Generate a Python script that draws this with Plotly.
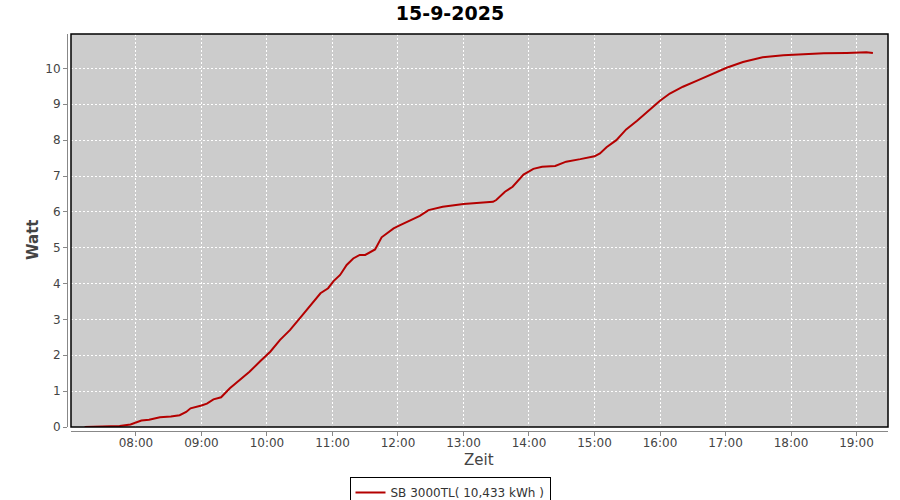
import plotly.graph_objects as go

title_text = "15-9-2025"
series_name = "SB 3000TL( 10,433 kWh )"
x_title = "Zeit"
y_title = "Watt"

times = ["07:13", "07:30", "07:45", "07:55", "08:00", "08:05", "08:12", "08:22", "08:32", "08:40",
         "08:46", "08:50", "09:00", "09:05", "09:11", "09:18", "09:26", "09:35", "09:44", "09:54",
         "10:03", "10:12", "10:21", "10:30", "10:39", "10:49", "10:56", "11:01", "11:07", "11:13",
         "11:19", "11:25", "11:30", "11:39", "11:45", "11:56", "12:02", "12:11", "12:20", "12:28",
         "12:41", "13:00", "13:18", "13:27", "13:30", "13:38", "13:45", "13:55", "14:04", "14:12",
         "14:24", "14:34", "14:47", "15:00", "15:05", "15:11", "15:20", "15:29", "15:39", "15:51",
         "16:00", "16:09", "16:21", "16:34", "16:49", "17:01", "17:16", "17:34", "17:53", "18:11",
         "18:30", "18:51", "19:09", "19:15"]
values = [0.00, 0.01, 0.03, 0.07, 0.12, 0.18, 0.20, 0.27, 0.29, 0.33,
          0.42, 0.52, 0.60, 0.65, 0.77, 0.83, 1.08, 1.31, 1.54, 1.84,
          2.10, 2.43, 2.70, 3.03, 3.35, 3.73, 3.87, 4.07, 4.24, 4.52,
          4.70, 4.80, 4.80, 4.95, 5.29, 5.54, 5.63, 5.77, 5.89, 6.05,
          6.14, 6.22, 6.27, 6.28, 6.33, 6.56, 6.70, 7.04, 7.20, 7.26,
          7.28, 7.40, 7.47, 7.55, 7.63, 7.80, 8.00, 8.30, 8.54, 8.87,
          9.10, 9.30, 9.49, 9.66, 9.86, 10.02, 10.18, 10.31, 10.37, 10.40,
          10.42, 10.43, 10.45, 10.43]

day = "2025-09-15 "
xs = [day + t for t in times]

fig = go.Figure()
fig.add_trace(go.Scatter(x=xs, y=values, mode="lines", name=series_name,
                         line=dict(color="#b40000", width=2)))

W, H = 900, 500
ml, mr, mt, mb = 67, 12, 34, 69
pw = W - ml - mr
ph = H - mt - mb
xdom0 = 4 / pw
ydom0 = 4 / ph


def px_x(p):
    return (p - ml) / pw


def px_y(p):
    return (H - mb - p) / ph


tickfont = dict(family="DejaVu Sans", size=12, color="#444444")
fig.update_layout(
    width=W, height=H,
    margin=dict(l=ml, r=mr, t=mt, b=mb, autoexpand=False),
    paper_bgcolor="white",
    plot_bgcolor="#cccccc",
    title=dict(text="<b>" + title_text + "</b>", x=0.5, xref="container", xanchor="center",
               y=1 - 13 / H, yref="container", yanchor="middle", automargin=False,
               font=dict(family="DejaVu Sans", size=19, color="#000000")),
    showlegend=True,
    legend=dict(orientation="h", xref="container", yref="container", x=0.5, xanchor="center",
                y=1 - 477 / H, yanchor="top", bordercolor="#000000", borderwidth=1,
                font=dict(family="DejaVu Sans", size=12, color="#333333"),
                itemwidth=30, tracegroupgap=0, valign="middle"),
    xaxis=dict(
        type="date",
        domain=[xdom0, 1],
        anchor="free", position=0, automargin=False,
        range=[day + "07:00:30", day + "19:28:50"],
        dtick=3600000, tick0=day + "08:00", tickformat="%H:%M",
        showgrid=True, gridcolor="white", griddash="2px,2px", gridwidth=1,
        showline=True, linecolor="#888888", linewidth=1,
        ticks="outside", ticklen=4, tickcolor="#888888",
        ticklabelstandoff=-3,
        tickfont=tickfont, zeroline=False,
    ),
    yaxis=dict(
        domain=[ydom0, 1],
        anchor="free", position=0, automargin=False,
        range=[0, 10.96],
        dtick=1, tick0=0,
        showgrid=True, gridcolor="white", griddash="2px,2px", gridwidth=1,
        showline=True, linecolor="#888888", linewidth=1,
        ticks="outside", ticklen=4, tickcolor="#888888",
        tickfont=tickfont, zeroline=False,
    ),
)

fig.add_annotation(text=x_title, xref="paper", yref="paper", x=px_x(479), y=px_y(460),
                   xanchor="center", yanchor="middle", showarrow=False,
                   font=dict(family="DejaVu Sans", size=15, color="#444444"))
fig.add_annotation(text="<b>" + y_title + "</b>", xref="paper", yref="paper", x=px_x(33), y=px_y(240),
                   xanchor="center", yanchor="middle", showarrow=False, textangle=-90,
                   font=dict(family="DejaVu Sans", size=15, color="#444444"))

fig.add_shape(type="rect", xref="paper", yref="paper", x0=xdom0, x1=1, y0=ydom0, y1=1,
              line=dict(color="black", width=1.5), fillcolor="rgba(0,0,0,0)", layer="above")

fig.write_html("out.html", config={"displayModeBar": False},
               post_script="document.body.style.margin='0';document.body.style.overflow='hidden';")
